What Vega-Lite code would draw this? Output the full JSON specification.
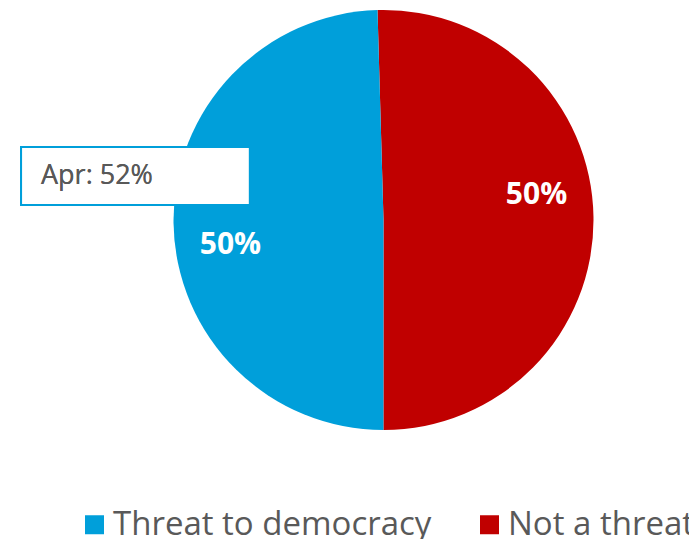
{
  "$schema": "https://vega.github.io/schema/vega-lite/v6.json",
  "width": 595,
  "height": 420,
  "padding": {"left": 20, "top": 10, "right": 0, "bottom": 0},
  "background": "white",
  "config": {"view": {"stroke": null}},
  "data": {"values": [
    {"category": "Not a threat", "value": 50.46, "label": "50%"},
    {"category": "Threat to democracy", "value": 49.54, "label": "50%"}
  ]},
  "layer": [
    {
      "mark": {"type": "arc", "outerRadius": 210},
      "encoding": {
        "theta": {"field": "value", "type": "quantitative", "stack": true, "scale": {"range": [-0.0286, 6.2546]}},
        "order": {"field": "category", "sort": "ascending"},
        "color": {
          "field": "category", "type": "nominal",
          "scale": {"domain": ["Threat to democracy", "Not a threat"], "range": ["#009FDA", "#C00000"]},
          "legend": {
            "title": null, "orient": "none", "legendX": -8, "legendY": 498, "direction": "horizontal",
            "symbolType": "square", "symbolSize": 361, "symbolStrokeWidth": 0,
            "labelFont": "Open Sans", "labelFontSize": 33, "labelColor": "#595959",
            "labelOffset": 2, "columnPadding": 41, "padding": 0,
            "labelLimit": 1000
          }
        }
      }
    },
    {
      "mark": {"type": "text", "radius": 155, "thetaOffset": -0.145, "font": "Open Sans", "fontWeight": "bold", "fontSize": 30, "color": "white"},
      "encoding": {
        "theta": {"field": "value", "type": "quantitative", "stack": true},
        "order": {"field": "category", "sort": "ascending"},
        "detail": {"field": "category"},
        "text": {"field": "label"}
      }
    },
    {
      "mark": {"type": "rect", "fill": "white", "stroke": "#009FDA", "strokeWidth": 2},
      "encoding": {
        "x": {"datum": -1.727, "type": "quantitative", "scale": {"domain": [-1.4176, 1.4176], "nice": false, "zero": false}, "axis": null},
        "x2": {"datum": -0.637},
        "y": {"datum": 0.348, "type": "quantitative", "scale": {"domain": [-1, 1], "nice": false, "zero": false}, "axis": null},
        "y2": {"datum": 0.071}
      }
    },
    {
      "mark": {"type": "text", "align": "left", "baseline": "middle", "font": "Open Sans", "fontSize": 27, "color": "#595959"},
      "encoding": {
        "x": {"datum": -1.632, "type": "quantitative"},
        "y": {"datum": 0.2095, "type": "quantitative"},
        "text": {"value": "Apr: 52%"}
      }
    }
  ]
}
